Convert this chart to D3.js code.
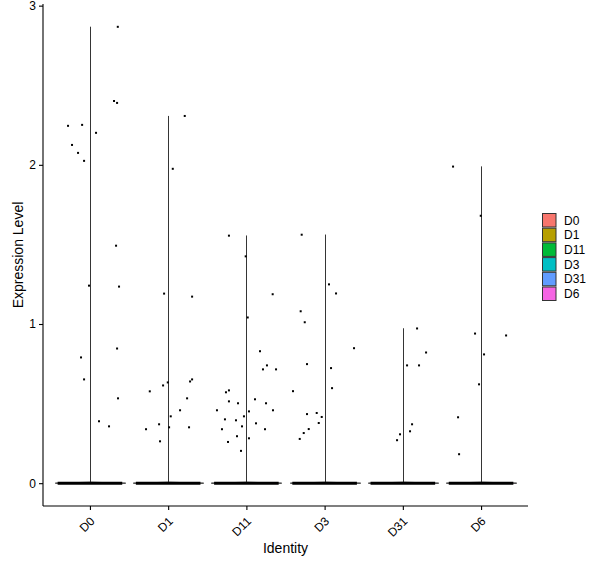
<!DOCTYPE html>
<html>
<head>
<meta charset="utf-8">
<script src="https://cdn.jsdelivr.net/npm/d3@7"></script>
<style>
  body { margin: 0; background: #fff; }
  text { font-family: "Liberation Sans", Arial, sans-serif; }
</style>
</head>
<body>
<div id="chart"></div>
<script>
const svgWidth = 600,
    svgHeight = 568,
    margin = { top: 4, right: 72, bottom: 62, left: 43 },
    width = svgWidth - margin.left - margin.right,
    height = svgHeight - margin.top - margin.bottom;

// identities and their colours
const identities = ["D0", "D1", "D11", "D3", "D31", "D6"];
const identityColors = ["#F8766D", "#B79F00", "#00BA38", "#00BFC4", "#619CFF", "#F564E3"];
const yTicks = [0, 1, 2, 3];

// non-zero expression values per identity, with their jitter (in category units)
const valuesD0 = [2.867, 2.401, 2.389, 2.245, 2.251, 2.201, 2.125, 2.075, 2.025, 1.492, 1.241, 1.235, 0.846, 0.790, 0.652, 0.533, 0.389, 0.357];
const jitterD0 = [0.356, 0.308, 0.347, -0.28, -0.10, 0.078, -0.229, -0.152, -0.075, 0.334, -0.012, 0.372, 0.347, -0.114, -0.075, 0.359, 0.116, 0.244];
const valuesD1 = [2.307, 1.975, 1.191, 1.172, 0.652, 0.639, 0.633, 0.614, 0.577, 0.533, 0.458, 0.420, 0.370, 0.339, 0.351, 0.351, 0.263];
const jitterD1 = [0.212, 0.059, -0.052, 0.306, 0.306, 0.280, -0.005, -0.065, -0.235, 0.242, 0.152, 0.033, -0.116, -0.283, 0.012, 0.267, -0.104];
const valuesD11 = [1.555, 1.425, 1.187, 1.041, 0.829, 0.740, 0.715, 0.715, 0.571, 0.583, 0.514, 0.502, 0.527, 0.502, 0.458, 0.451, 0.458, 0.420, 0.401, 0.395, 0.357, 0.376, 0.339, 0.339, 0.295, 0.282, 0.259, 0.203];
const jitterD11 = [-0.223, -0.009, 0.336, 0.017, 0.174, 0.263, 0.212, 0.379, -0.261, -0.223, -0.223, -0.107, 0.110, 0.251, -0.376, 0.033, 0.340, -0.031, -0.274, -0.133, -0.056, 0.123, -0.312, 0.238, -0.120, 0.033, -0.235, -0.069];
const valuesD3 = [1.561, 1.249, 1.192, 1.080, 1.011, 0.848, 0.748, 0.723, 0.597, 0.578, 0.434, 0.441, 0.416, 0.378, 0.340, 0.315, 0.278];
const jitterD3 = [-0.293, 0.056, 0.146, -0.306, -0.254, 0.376, -0.225, 0.082, 0.095, -0.404, -0.225, -0.101, -0.037, -0.075, -0.203, -0.267, -0.318];
const valuesD31 = [0.972, 0.821, 0.740, 0.740, 0.370, 0.326, 0.307, 0.270];
const jitterD31 = [0.182, 0.297, 0.054, 0.207, 0.118, 0.092, -0.036, -0.074];
const valuesD6 = [1.989, 1.680, 0.940, 0.928, 0.809, 0.621, 0.414, 0.182];
const jitterD6 = [-0.358, -0.004, -0.077, 0.320, 0.038, -0.026, -0.294, -0.281];

const allValues = [valuesD0, valuesD1, valuesD11, valuesD3, valuesD31, valuesD6];
const allJitter = [jitterD0, jitterD1, jitterD11, jitterD3, jitterD31, jitterD6];

// build per-identity table + point list
let groups = identities.map((id, i) => ({
    id: id,
    color: identityColors[i],
    max: d3.max(allValues[i])
}));
let points = [];
identities.forEach((id, i) => {
    allValues[i].forEach((v, k) => points.push({ id: id, value: v, jitter: allJitter[i][k] }));
});

let svg = d3.select("#chart").append("svg")
    .attr("width", svgWidth)
    .attr("height", svgHeight);
let g = svg.append("g")
    .attr("transform", `translate(${margin.left},${margin.top})`);

// scales (ggplot-like expansion)
let yMax = d3.max(groups, (d) => d.max);
let yScale = d3.scaleLinear()
    .domain([-0.05 * yMax, yMax * 1.05])
    .range([height, 0]);
let xScale = d3.scalePoint()
    .domain(identities)
    .range([0, width])
    .padding(0.6);
let step = xScale.step();

// violins: flat spike at zero plus a hair-thin stem up to max
let violins = g.selectAll(".violin")
    .data(groups)
    .join("g")
    .attr("class", "violin");
violins.append("path")
    .attr("d", (d) => {
        let cx = Math.round(xScale(d.id)) + 0.5, y0 = yScale(0), y1 = yScale(d.max);
        return `M${cx - 0.45 * step},${y0} L${cx + 0.45 * step},${y0} L${cx},${y0 - 1} L${cx},${y1} L${cx},${y0 - 1} Z`;
    })
    .attr("fill", (d) => d.color)
    .attr("stroke", "#333")
    .attr("stroke-width", 0.9);

// zero-expression cells (dense band of jittered points)
violins.append("line")
    .attr("x1", (d) => xScale(d.id) - 0.4 * step - 1)
    .attr("x2", (d) => xScale(d.id) + 0.4 * step + 1)
    .attr("y1", yScale(0))
    .attr("y2", yScale(0))
    .attr("stroke", "#000")
    .attr("stroke-width", 3);

// jittered points
g.selectAll(".pt")
    .data(points)
    .join("rect")
    .attr("class", "pt")
    .attr("x", (d) => xScale(d.id) + d.jitter * step - 1)
    .attr("y", (d) => yScale(d.value) - 1)
    .attr("width", 2)
    .attr("height", 2)
    .attr("fill", "#000");

// axes
let yAxis = g.append("g")
    .call(d3.axisLeft(yScale).tickValues(yTicks).tickSize(4).tickPadding(3).tickFormat(d3.format("d")));
let xAxis = g.append("g")
    .attr("transform", `translate(0,${height})`)
    .call(d3.axisBottom(xScale).tickSize(4).tickPadding(3));

[yAxis, xAxis].forEach((ax) => {
    ax.select(".domain").attr("stroke", "#000").attr("stroke-width", 1.1);
    ax.selectAll(".tick line").attr("stroke", "#000").attr("stroke-width", 1.1);
    ax.selectAll(".tick text").attr("fill", "#000").style("font-size", "12px");
});
// ggplot axis lines stop at the panel edge, no outer ticks
yAxis.select(".domain").attr("d", `M0,0V${height}`);
xAxis.select(".domain").attr("d", `M0,0H${width}`);

xAxis.selectAll(".tick text")
    .attr("text-anchor", "end")
    .attr("dy", "0.35em")
    .attr("transform", "translate(2,13) rotate(-45)")
    .attr("y", 0)
    .attr("x", 0);

// axis titles
svg.append("text")
    .attr("transform", `translate(18, ${margin.top + height / 2}) rotate(-90)`)
    .attr("text-anchor", "middle")
    .attr("dy", "0.35em")
    .style("font-size", "14px")
    .text("Expression Level");
svg.append("text")
    .attr("x", margin.left + width / 2)
    .attr("y", 553)
    .attr("text-anchor", "middle")
    .style("font-size", "14px")
    .text("Identity");

// legend
let legend = svg.append("g")
    .attr("transform", "translate(542, 213)");
let keys = legend.selectAll(".key")
    .data(groups)
    .join("g")
    .attr("class", "key")
    .attr("transform", (d, i) => `translate(0, ${i * 14.7})`);
keys.append("rect")
    .attr("x", 0.5)
    .attr("y", 0.5)
    .attr("width", 13.5)
    .attr("height", 13.5)
    .attr("fill", (d) => d.color)
    .attr("stroke", "#333")
    .attr("stroke-width", 1);
keys.append("text")
    .attr("x", 22)
    .attr("y", 7.5)
    .attr("dy", "0.35em")
    .style("font-size", "12px")
    .text((d) => d.id);
</script>
</body>
</html>
